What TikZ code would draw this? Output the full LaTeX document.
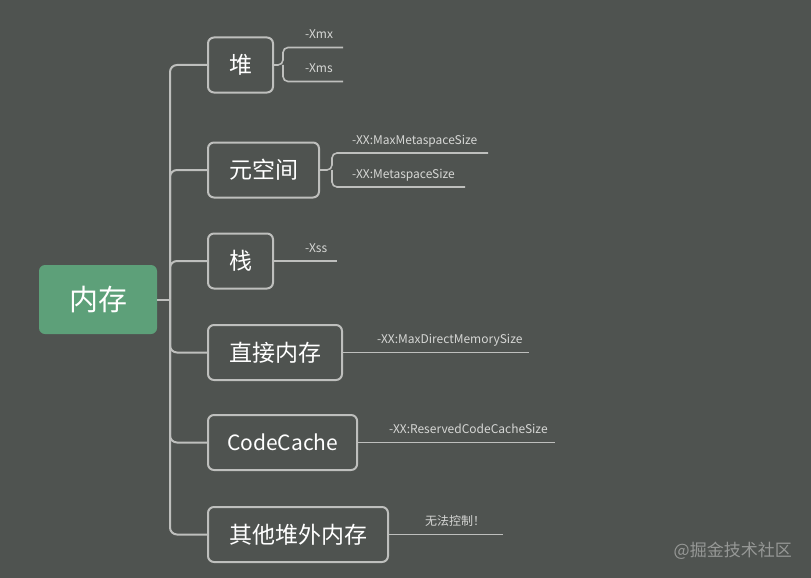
\documentclass[tikz,border=0pt]{standalone}
\usepackage{fontspec}
\setmainfont{Noto Sans CJK SC}
\usepackage{tikz}
\definecolor{bgdark}{RGB}{79,83,80}
\definecolor{linegray}{RGB}{190,191,189}
\definecolor{rootgreen}{RGB}{93,160,121}
\definecolor{leaftext}{RGB}{214,215,213}
\definecolor{marktext}{RGB}{150,152,150}

\begin{document}
\begin{tikzpicture}[x=1pt, y=-1pt,
    root/.style={fill=rootgreen, rounded corners=6pt, minimum width=118pt, minimum height=69pt, text=white, font=\fontsize{29}{30}\selectfont},
    topic/.style={draw=linegray, line width=2pt, rounded corners=6pt, minimum height=55pt, inner xsep=21pt, anchor=west, text=white, font=\fontsize{23}{25}\selectfont},
    param/.style={anchor=base west, inner sep=0pt, text=leaftext, font=\fontsize{12}{13}\selectfont},
    branch/.style={draw=linegray, line width=2pt, rounded corners=7pt},
    twig/.style={draw=linegray, line width=1.6pt, rounded corners=5pt}
  ]
  \fill[bgdark] (0,0) rectangle (811,578);
  \useasboundingbox (0,0) rectangle (811,578);

  \node[root] (mem) at (98,299.5) {内存};
  \coordinate (trunk) at (170,299.5);

  \node[topic] (heap) at (207,65) {堆};
  \node[topic] (meta) at (207,170) {元空间};
  \node[topic] (stack) at (207,261) {栈};
  \node[topic] (direct) at (207,352.5) {直接内存};
  \node[topic, inner xsep=19pt, font=\fontsize{21}{25}\selectfont] (ccache) at (207,442.5) {CodeCache};
  \node[topic] (offheap) at (207,534.5) {其他堆外内存};

  \draw[branch] (mem.east) -- (trunk);
  \foreach \t in {heap,meta,stack,direct,ccache,offheap}
    \draw[branch] (trunk) |- (\t.west);

  % parameters
  \coordinate (heapfork) at (283,65);
  \coordinate (xmxend) at (343,47.5);
  \coordinate (xmsend) at (343,81.5);
  \draw[twig] (heap.east) -- (heapfork) |- (xmxend);
  \draw[twig] (heapfork) |- (xmsend);
  \node[param] (xmx) at (305,39) {-Xmx};
  \node[param] (xms) at (305,73) {-Xms};

  \coordinate (metafork) at (332,170);
  \coordinate (maxmetaend) at (488,153);
  \coordinate (metaend) at (465,187);
  \draw[twig] (meta.east) -- (metafork) |- (maxmetaend);
  \draw[twig] (metafork) |- (metaend);
  \node[param] (maxmeta) at (352,144) {-XX:MaxMetaspaceSize};
  \node[param] (metasize) at (352,178) {-XX:MetaspaceSize};

  \coordinate (xssend) at (337,261);
  \draw[twig] (stack.east) -- (xssend);
  \node[param] (xss) at (305,252) {-Xss};

  \coordinate (directend) at (529,352.5);
  \draw[twig] (direct.east) -- (directend);
  \node[param] (maxdirect) at (377,343) {-XX:MaxDirectMemorySize};

  \coordinate (ccacheend) at (555,442.5);
  \draw[twig] (ccache.east) -- (ccacheend);
  \node[param] (reserved) at (389,433) {-XX:ReservedCodeCacheSize};

  \coordinate (offheapend) at (503,534.5);
  \draw[twig] (offheap.east) -- (offheapend);
  \node[param] (nocontrol) at (425,525) {无法控制！};

  \node[anchor=base east, inner sep=0pt, text=marktext, font=\fontsize{17}{18}\selectfont] (mark) at (792,556) {@掘金技术社区};
\end{tikzpicture}
\end{document}
